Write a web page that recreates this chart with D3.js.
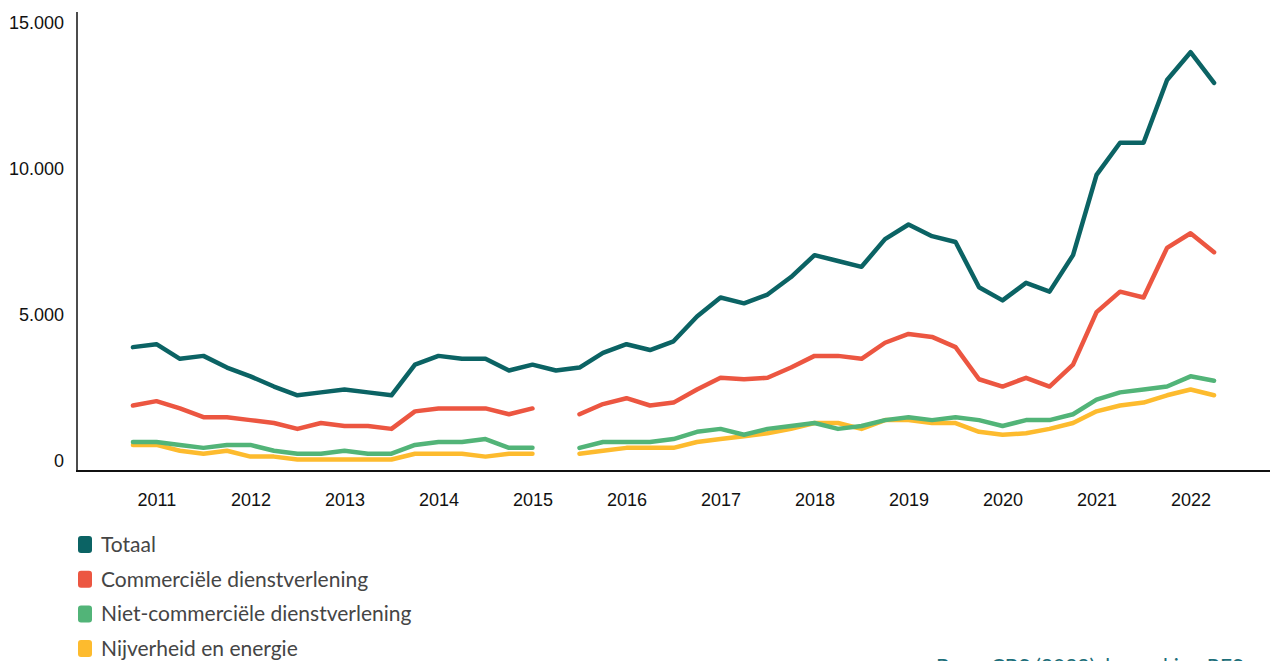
<!DOCTYPE html>
<html>
<head>
<meta charset="utf-8">
<script src="https://cdn.jsdelivr.net/npm/d3@7"></script>
<style>
  body { margin: 0; background: #fff; overflow: hidden; }
  svg { display: block; }
</style>
</head>
<body>
<div id="chart"></div>
<script>
// quarters 2011 K1 .. 2022 K3
var years = ["2011","2012","2013","2014","2015","2016","2017","2018","2019","2020","2021","2022"];
var quarters = [];
years.forEach(function (y) {
    for (var q = 1; q <= 4; q++) {
        if (y === "2022" && q === 4) continue;
        quarters.push(y + "K" + q);
    }
});

var totaal = [3900,4000,3500,3600,3200,2900,2550,2250,2350,2450,2350,2250,3300,3600,3500,3500,3100,3300,3100,
    3200,3700,4000,3800,4100,4950,5600,5400,5700,6300,7050,6850,6650,7600,8100,7700,7500,5950,5500,6100,5800,7050,9800,10900,10900,13050,14000,12950];
var commercieel = [1900,2050,1800,1500,1500,1400,1300,1100,1300,1200,1200,1100,1700,1800,1800,1800,1600,1800,null,
    1600,1950,2150,1900,2000,2450,2850,2800,2850,3200,3600,3600,3500,4050,4350,4250,3900,2800,2550,2850,2550,3300,5100,5800,5600,7300,7800,7150];
var nietCommercieel = [650,650,550,450,550,550,350,250,250,350,250,250,550,650,650,750,450,450,null,
    450,650,650,650,750,1000,1100,900,1100,1200,1300,1100,1200,1400,1500,1400,1500,1400,1200,1400,1400,1600,2100,2350,2450,2550,2900,2750];
var nijverheid = [550,550,350,250,350,150,150,50,50,50,50,50,250,250,250,150,250,250,null,
    250,350,450,450,450,650,750,850,950,1100,1300,1300,1100,1400,1400,1300,1300,1000,900,950,1100,1300,1700,1900,2000,2250,2450,2250];

var yTicks = [0, 5000, 10000, 15000];

var series = [
    {name: "Totaal", values: totaal, color: "#0b6364"},
    {name: "Commerciële dienstverlening", values: commercieel, color: "#ec5641"},
    {name: "Niet-commerciële dienstverlening", values: nietCommercieel, color: "#52b478"},
    {name: "Nijverheid en energie", values: nijverheid, color: "#fdbb2e"}
];

var width = 1270, height = 661;

var svg = d3.select("#chart").append("svg")
    .attr("width", width)
    .attr("height", height);

// scales
var x = d3.scalePoint().domain(quarters).range([77, 1270]).padding(2.38);
var y = d3.scaleLinear().domain([0, 15000]).range([461, 23]);

// y axis labels
svg.append("g")
    .attr("transform", "translate(77,0)")
    .call(d3.axisLeft(y).tickValues(yTicks).tickSize(0).tickPadding(13)
        .tickFormat(function (d) { return d3.format(",")(d).replace(/,/g, "."); }))
    .call(function (g) { g.select(".domain").remove(); })
    .selectAll("text")
    .attr("font-family", "'Liberation Sans', Arial, sans-serif")
    .attr("font-size", "18px")
    .attr("fill", "#111");

// axis lines
svg.append("line")
    .attr("x1", 77).attr("x2", 77)
    .attr("y1", 12).attr("y2", 472)
    .attr("stroke", "#111").attr("stroke-width", 1.5);
svg.append("line")
    .attr("x1", 76).attr("x2", 1270)
    .attr("y1", 471).attr("y2", 471)
    .attr("stroke", "#111").attr("stroke-width", 2);

// x labels at second quarter of each year
svg.append("g")
    .attr("transform", "translate(0,471)")
    .call(d3.axisBottom(x).tickValues(years.map(function (yr) { return yr + "K2"; }))
        .tickSize(0).tickPadding(22)
        .tickFormat(function (d) { return d.slice(0, 4); }))
    .call(function (g) { g.select(".domain").remove(); })
    .selectAll("text")
    .attr("font-family", "'Liberation Sans', Arial, sans-serif")
    .attr("font-size", "18px")
    .attr("fill", "#111");

// lines
var line = d3.line()
    .defined(function (d) { return d.v !== null; })
    .x(function (d) { return x(d.q); })
    .y(function (d) { return y(d.v); });

series.slice().reverse().forEach(function (s) {
    var data = s.values.map(function (v, i) { return {q: quarters[i], v: v}; });
    svg.append("path")
        .datum(data)
        .attr("fill", "none")
        .attr("stroke", s.color)
        .attr("stroke-width", 4.5)
        .attr("stroke-linejoin", "round")
        .attr("stroke-linecap", "round")
        .attr("d", line);
});

// legend
var legend = svg.append("g").attr("transform", "translate(78,536)");
series.forEach(function (s, i) {
    var g = legend.append("g").attr("transform", "translate(0," + (i * 34.7) + ")");
    g.append("rect")
        .attr("width", 14).attr("height", 17)
        .attr("rx", 3)
        .attr("fill", s.color);
    g.append("text")
        .attr("x", 23).attr("y", 16)
        .attr("font-family", "Lato, sans-serif")
        .attr("font-size", "21px")
        .attr("fill", "#454545")
        .text(s.name);
});

// source (cut off at bottom, as in the original)
svg.append("text")
    .attr("x", 936).attr("y", 674)
    .attr("font-family", "Lato, sans-serif")
    .attr("font-size", "21px")
    .attr("fill", "#1d6f7a")
    .text("Bron: CBS (2022), bewerking RES");
</script>
</body>
</html>
